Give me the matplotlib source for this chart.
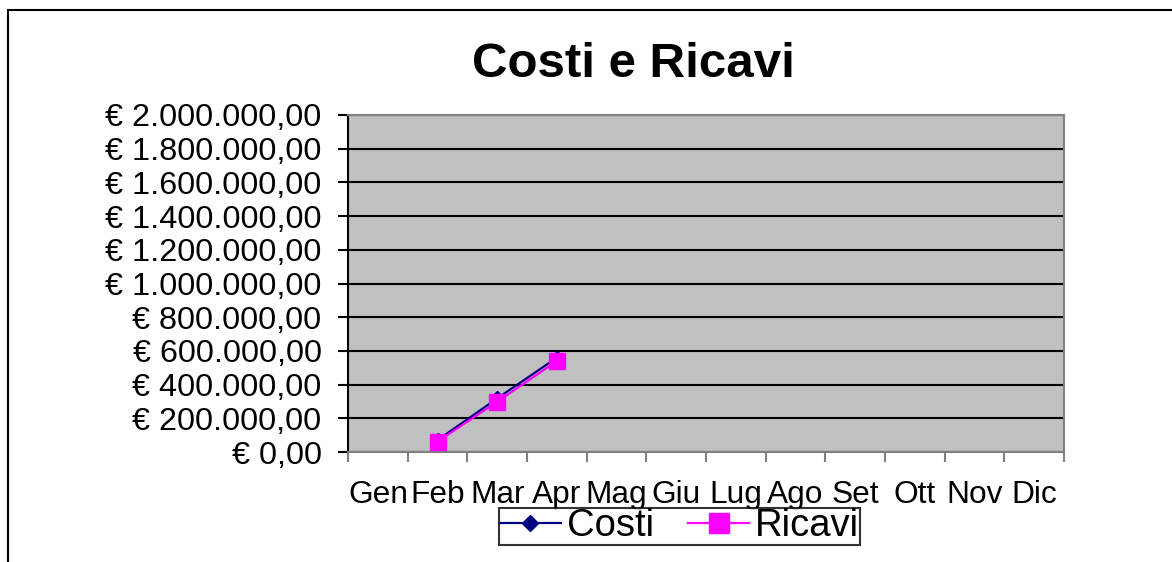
import matplotlib
matplotlib.use("Agg")
import matplotlib.pyplot as plt
from matplotlib.patches import Rectangle
from matplotlib.ticker import FuncFormatter, FixedLocator

# data
mesi = ["Gen", "Feb", "Mar", "Apr", "Mag", "Giu", "Lug", "Ago", "Set", "Ott", "Nov", "Dic"]
costi_mesi = ["Feb", "Mar", "Apr"]
costi = [70000, 318000, 560000]
ricavi = [62000, 298000, 540000]

plt.rcParams['font.family'] = ['Liberation Sans', 'DejaVu Sans']

W, H = 1172, 562
fig = plt.figure(figsize=(W / 100, H / 100), dpi=100)

# plot area in pixels: left 348, right 1064, top 115, bottom 452
ax = fig.add_axes([348 / W, (H - 452) / H, (1064 - 348) / W, (452 - 115) / H])
ax.set_facecolor("#C0C0C0")

x_pos = [mesi.index(m) for m in costi_mesi]
ax.plot(x_pos, costi, color="#000080", lw=1.6, marker="D", ms=7,
        mfc="#000080", mec="#000080", label="Costi", zorder=3)
ax.plot(x_pos, ricavi, color="#FF00FF", lw=1.6, marker="s", ms=11.5,
        mfc="#FF00FF", mec="#FF00FF", label="Ricavi", zorder=4)

ax.set_xlim(-0.5, 11.5)
ax.set_ylim(0, 2000000)
ax.set_yticks(range(0, 2000001, 200000))


def euro(v, pos):
    s = f"{v:,.2f}".replace(",", "X").replace(".", ",").replace("X", ".")
    return "€ " + s


ax.yaxis.set_major_formatter(FuncFormatter(euro))
ax.grid(axis="y", color="black", lw=1.5)
ax.set_axisbelow(True)

# category axis: labels at centres, tick marks between categories
ax.set_xticks(range(12))
ax.set_xticklabels(mesi)
ax.xaxis.set_minor_locator(FixedLocator([i - 0.5 for i in range(13)]))
ax.tick_params(axis="x", which="major", length=0, pad=20, labelsize=22.8)
ax.tick_params(axis="x", which="minor", length=7, width=1.5, color="#808080")
ax.tick_params(axis="y", length=7, width=1.5, color="black", pad=12, labelsize=23.3)

for side in ["top", "right", "bottom"]:
    ax.spines[side].set_color("#808080")
    ax.spines[side].set_linewidth(1.5)
ax.spines["left"].set_color("black")
ax.spines["left"].set_linewidth(1.5)

fig.text(633 / W, (H - 77) / H, "Costi e Ricavi", fontsize=35.5, fontweight="bold",
         ha="center", va="baseline")

leg = fig.legend(loc="center", bbox_to_anchor=(679.5 / W, (H - 526.5) / H),
                 ncol=2, fontsize=27.5, frameon=True, fancybox=False,
                 handlelength=1.6, handletextpad=0.15, columnspacing=0.9,
                 borderpad=0.02, borderaxespad=0, markerscale=1.2)
leg.get_frame().set_edgecolor("black")
leg.get_frame().set_linewidth(1.5)

# outer chart frame
fig.add_artist(Rectangle((8 / W, -0.2), 1.2, 1.2 - 10 / H, transform=fig.transFigure,
                         fill=False, edgecolor="black", lw=1.5))

fig.savefig("out.png", dpi=100)
